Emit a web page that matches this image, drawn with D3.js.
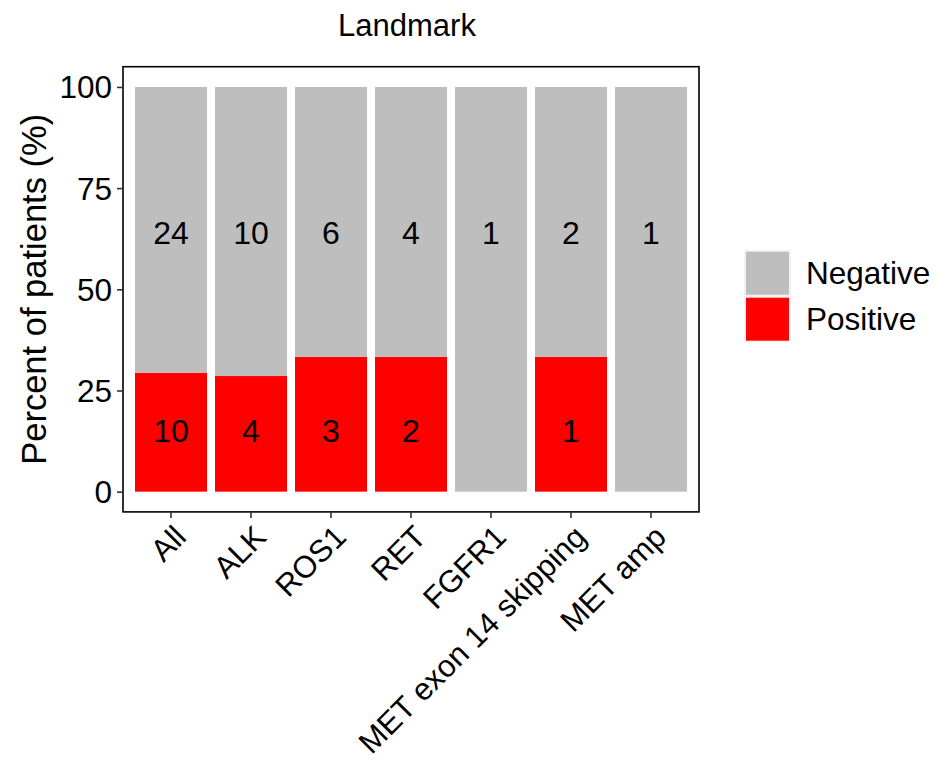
<!DOCTYPE html>
<html>
<head>
<meta charset="utf-8">
<script src="https://cdn.jsdelivr.net/npm/d3@7"></script>
<style>
  body { margin: 0; background: #fff; }
  svg text { font-family: "Liberation Sans", Arial, Helvetica, sans-serif; fill: #000; }
</style>
</head>
<body>
<svg id="chart" width="935" height="763"></svg>
<script>
// Patients per alteration group, split by result
const categories = ["All", "ALK", "ROS1", "RET", "FGFR1", "MET exon 14 skipping", "MET amp"];
const positiveCounts = [10, 4, 3, 2, 0, 1, 0];
const negativeCounts = [24, 10, 6, 4, 1, 2, 1];
const statusLevels = ["Negative", "Positive"];
const statusColors = ["#bebebe", "#ff0000"];
const yTickValues = [0, 25, 50, 75, 100];
const chartTitle = "Landmark";
const yAxisTitle = "Percent of patients (%)";

const svg = d3.select("#chart");

// Panel box
const panel = { left: 123, right: 699, top: 66.7, bottom: 511.9 };

const x = d3.scaleBand()
  .domain(categories)
  .range([panel.left, panel.right])
  .paddingInner(0.1)
  .paddingOuter(0.15);

const y = d3.scaleLinear()
  .domain([-5, 105])
  .range([panel.bottom, panel.top]);

const color = d3.scaleOrdinal().domain(statusLevels).range(statusColors);

// Long table: one row per category and status, stacked to 100 %
const rows = categories.map((c, i) => {
  const total = positiveCounts[i] + negativeCounts[i];
  const pPos = positiveCounts[i] / total * 100;
  return [
    { category: c, status: "Positive", count: positiveCounts[i], y0: 0, y1: pPos },
    { category: c, status: "Negative", count: negativeCounts[i], y0: pPos, y1: 100 }
  ];
}).flat();

// Bars
svg.append("g")
  .selectAll("rect")
  .data(rows.filter(d => d.y1 > d.y0))
  .join("rect")
  .attr("x", d => x(d.category))
  .attr("width", x.bandwidth())
  .attr("y", d => y(d.y1))
  .attr("height", d => y(d.y0) - y(d.y1))
  .attr("fill", d => color(d.status));

// Count labels: negatives in the upper band, positives in the lower band
const labelLevel = { Negative: 64, Positive: 15 };
svg.append("g")
  .selectAll("text")
  .data(rows.filter(d => d.count > 0))
  .join("text")
  .attr("x", d => x(d.category) + x.bandwidth() / 2)
  .attr("y", d => y(labelLevel[d.status]))
  .attr("text-anchor", "middle")
  .attr("dominant-baseline", "central")
  .style("font-size", "32px")
  .text(d => d.count);

// Panel border
svg.append("rect")
  .attr("x", panel.left)
  .attr("y", panel.top)
  .attr("width", panel.right - panel.left)
  .attr("height", panel.bottom - panel.top)
  .attr("fill", "none")
  .attr("stroke", "#000")
  .attr("stroke-width", 1.6);

// Y axis
const yAxis = svg.append("g")
  .attr("transform", `translate(${panel.left},0)`)
  .call(d3.axisLeft(y).tickValues(yTickValues).tickSize(6).tickPadding(5));
yAxis.select(".domain").remove();
yAxis.selectAll(".tick line").attr("stroke", "#333").attr("stroke-width", 1.6);
yAxis.selectAll(".tick text")
  .style("font-size", "31.5px")
  .style("font-family", "'Liberation Sans', Arial, sans-serif")
  .attr("fill", "#000")
  .attr("dy", "0.35em");

// X axis
const xAxis = svg.append("g")
  .attr("transform", `translate(0,${panel.bottom})`)
  .call(d3.axisBottom(x).tickSize(6).tickPadding(0));
xAxis.select(".domain").remove();
xAxis.selectAll(".tick line").attr("stroke", "#333").attr("stroke-width", 1.6);
xAxis.selectAll(".tick text")
  .style("font-size", "31px")
  .style("font-family", "'Liberation Sans', Arial, sans-serif")
  .attr("fill", "#000")
  .attr("text-anchor", "end")
  .attr("y", 0)
  .attr("dy", 0)
  .attr("transform", "translate(1,11) rotate(-45) translate(0,22.5)");

// Title
svg.append("text")
  .attr("x", 407)
  .attr("y", 25)
  .attr("text-anchor", "middle")
  .attr("dominant-baseline", "central")
  .style("font-size", "31px")
  .text(chartTitle);

// Y axis title
svg.append("text")
  .attr("transform", `translate(34,${(panel.top + panel.bottom) / 2}) rotate(-90)`)
  .attr("text-anchor", "middle")
  .attr("dominant-baseline", "central")
  .style("font-size", "34.5px")
  .text(yAxisTitle);

// Legend
const legend = svg.append("g").attr("transform", "translate(744,250)");
const keySize = 46;
statusLevels.forEach((s, i) => {
  const g = legend.append("g").attr("transform", `translate(0,${i * keySize})`);
  g.append("rect")
    .attr("width", keySize + 1)
    .attr("height", keySize)
    .attr("fill", "#f2f2f2");
  g.append("rect")
    .attr("x", 2)
    .attr("y", 1.7)
    .attr("width", 43)
    .attr("height", 43)
    .attr("fill", color(s));
  g.append("text")
    .attr("x", 62)
    .attr("y", keySize / 2)
    .attr("dominant-baseline", "central")
    .style("font-size", "31.5px")
    .text(s);
});
</script>
</body>
</html>
